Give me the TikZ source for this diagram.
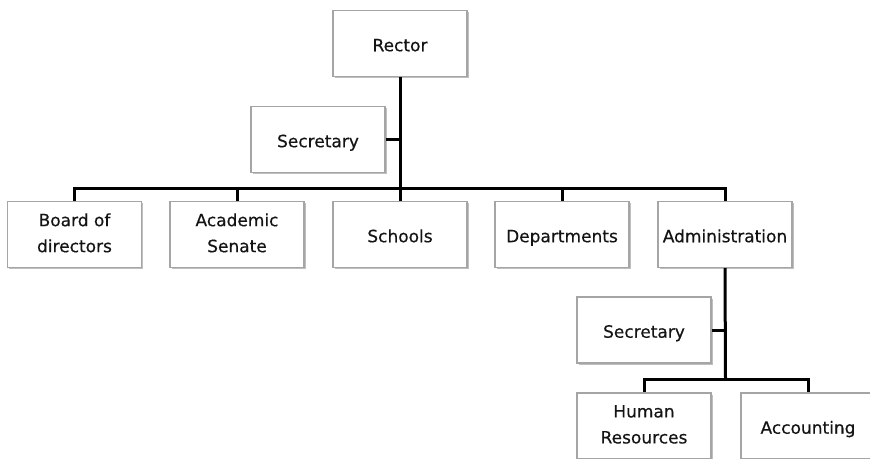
\documentclass[tikz,border=0pt]{standalone}
\usepackage{fontspec}
\setmainfont{DejaVu Sans}[FakeBold=0.4]
\usetikzlibrary{shadows}
\definecolor{boxline}{RGB}{165,165,165}
\definecolor{boxtext}{RGB}{20,20,20}
% fixed-height strut so one- and two-line labels sit alike
\newcommand{\boxstrut}{\rule[-3.5pt]{0pt}{22.5pt}}
\begin{document}
\begin{tikzpicture}[x=1pt,y=-1pt,
  orgbox/.style={draw=boxline, line width=1.2pt, fill=white,
    minimum width=134pt, minimum height=66pt, inner sep=2pt,
    align=center, text=boxtext,
    font=\fontsize{17}{26}\selectfont,
    execute at begin node=\boxstrut, execute at end node=\boxstrut,
    drop shadow={shadow xshift=1.5pt, shadow yshift=-1.5pt, opacity=0.25, fill=black}},
  link/.style={draw=black, line width=3pt}]
\useasboundingbox (0,0) rectangle (870,458);
\clip (0,0) rectangle (870,458);
\fill[white] (0,0) rectangle (870,458);

% top level
\node[orgbox] (rector) at (400,43.5) {Rector};
\node[orgbox] (sec) at (318,139.5) {Secretary};

% second row
\node[orgbox] (board) at (74.5,234.5) {Board of\\directors};
\node[orgbox] (senate) at (237,234.5) {Academic\\Senate};
\node[orgbox] (schools) at (400,234.5) {Schools};
\node[orgbox] (depts) at (562,234.5) {Departments};
\node[orgbox] (admin) at (725,234.5) {Administration};

% administration branch
\node[orgbox] (sec2) at (644,330) {Secretary};
\node[orgbox] (hr) at (644,426) {Human\\Resources};
\node[orgbox] (acc) at (808,426) {Accounting};

\coordinate (j1) at (400,188);
\coordinate (j2) at (725.5,379);

% connectors
\draw[link] (rector.south) -- (j1);
\draw[link] (sec.east) -- (sec.east -| rector.south);
\draw[link] (board.north) |- (j1) -| (admin.north);
\draw[link] (senate.north) -- (senate.north |- j1);
\draw[link] (schools.north) -- (j1);
\draw[link] (depts.north) -- (depts.north |- j1);
\draw[link] (admin.south) -- (j2);
\draw[link] (sec2.east) -- (sec2.east -| admin.south);
\draw[link] (hr.north) |- (j2) -| (acc.north);
\end{tikzpicture}
\end{document}
